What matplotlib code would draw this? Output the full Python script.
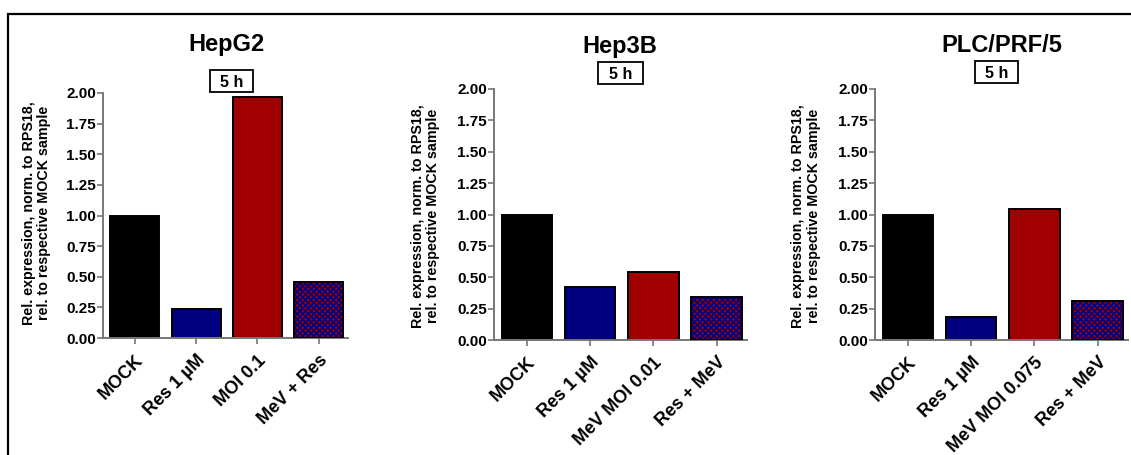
import matplotlib
matplotlib.use("Agg")
import matplotlib.pyplot as plt
from matplotlib.patches import Rectangle

plt.rcParams['font.family'] = ['Liberation Sans', 'DejaVu Sans']
plt.rcParams['font.weight'] = 'bold'
plt.rcParams['hatch.linewidth'] = 1.2

# ---- data ----
titles = ["HepG2", "Hep3B", "PLC/PRF/5"]
time_label = "5 h"
cats_hepg2 = ["MOCK", "Res 1 \u00b5M", "MOI 0.1", "MeV + Res"]
cats_hep3b = ["MOCK", "Res 1 \u00b5M", "MeV MOI 0.01", "Res + MeV"]
cats_plc = ["MOCK", "Res 1 \u00b5M", "MeV MOI 0.075", "Res + MeV"]
vals_hepg2 = [1.00, 0.24, 1.97, 0.46]
vals_hep3b = [1.00, 0.42, 0.54, 0.34]
vals_plc = [1.00, 0.18, 1.04, 0.31]
yticks = [0.00, 0.25, 0.50, 0.75, 1.00, 1.25, 1.50, 1.75, 2.00]
ylabel = "Rel. expression, norm. to RPS18,\nrel. to respective MOCK sample"

W, H = 1131, 455
fig = plt.figure(figsize=(W / 100, H / 100), dpi=100)

def fx(px):
    return px / W

def fy(py):
    return 1 - py / H

# figure frame (top & left lines visible)
fig.patches.append(Rectangle((fx(8), -0.1), 1.2, fy(14) + 0.1, transform=fig.transFigure,
                             fill=False, edgecolor='black', linewidth=1.6))

panels = [
    dict(cats=cats_hepg2, vals=vals_hepg2, box=(103, 348, 93, 338), title_xy=(227, 45),
         tag_box=(210, 253, 70, 92), ylab_xy=(36.5, 213)),
    dict(cats=cats_hep3b, vals=vals_hep3b, box=(494, 747, 89, 340), title_xy=(620, 46),
         tag_box=(598, 643, 62, 84), ylab_xy=(425.5, 216)),
    dict(cats=cats_plc, vals=vals_plc, box=(875, 1128, 89, 340), title_xy=(1002, 46),
         tag_box=(975, 1018, 61, 83), ylab_xy=(806, 216)),
]

face_colors = ['black', '#000080', '#A00000', '#A00000']

for title, p in zip(titles, panels):
    l, r, t, b = p['box']
    ax = fig.add_axes([fx(l), fy(b), fx(r - l), (b - t) / H])
    xs = list(range(len(p['cats'])))
    for i, (x, v) in enumerate(zip(xs, p['vals'])):
        if i == 3:
            ax.bar(x, v, width=0.8, color=face_colors[i], edgecolor='#000080',
                   hatch='xxxxxx', linewidth=0, zorder=2)
            ax.bar(x, v, width=0.8, facecolor='none', edgecolor='black',
                   linewidth=1.4, zorder=3)
        else:
            ax.bar(x, v, width=0.8, color=face_colors[i], edgecolor='black',
                   linewidth=1.4, zorder=2)
    ax.set_xlim(-0.52, 3.48)
    ax.set_ylim(0, 2.0)
    ax.set_yticks(yticks)
    ax.set_yticklabels([f"{v:.2f}" for v in yticks], fontsize=11, fontweight='bold')
    ax.set_xticks(xs)
    ax.set_xticklabels(p['cats'], rotation=45, ha='right', rotation_mode='anchor',
                       fontsize=13, fontweight='bold')
    for s in ['top', 'right']:
        ax.spines[s].set_visible(False)
    for s in ['left', 'bottom']:
        ax.spines[s].set_color('#777777')
        ax.spines[s].set_linewidth(1.4)
    ax.tick_params(axis='both', colors='#777777', labelcolor='black', width=1.2,
                   length=4)
    ax.tick_params(axis='y', pad=1)
    ax.tick_params(axis='x', pad=6)

    fig.text(fx(p['title_xy'][0]), fy(p['title_xy'][1]), title, ha='center', va='center',
             fontsize=17, fontweight='bold')
    bl, br, bt, bb = p['tag_box']
    fig.patches.append(Rectangle((fx(bl), fy(bb)), fx(br - bl), (bb - bt) / H,
                                 transform=fig.transFigure, facecolor='white',
                                 edgecolor='black', linewidth=1.3))
    fig.text(fx((bl + br) / 2), fy((bt + bb) / 2), time_label, ha='center', va='center_baseline',
             fontsize=11.5, fontweight='bold')
    fig.text(fx(p['ylab_xy'][0]), fy(p['ylab_xy'][1]), ylabel, rotation=90,
             ha='center', va='center', multialignment='center', fontsize=10.3,
             fontweight='bold', linespacing=1.15)

fig.savefig("out.png", dpi=100, facecolor='white')
